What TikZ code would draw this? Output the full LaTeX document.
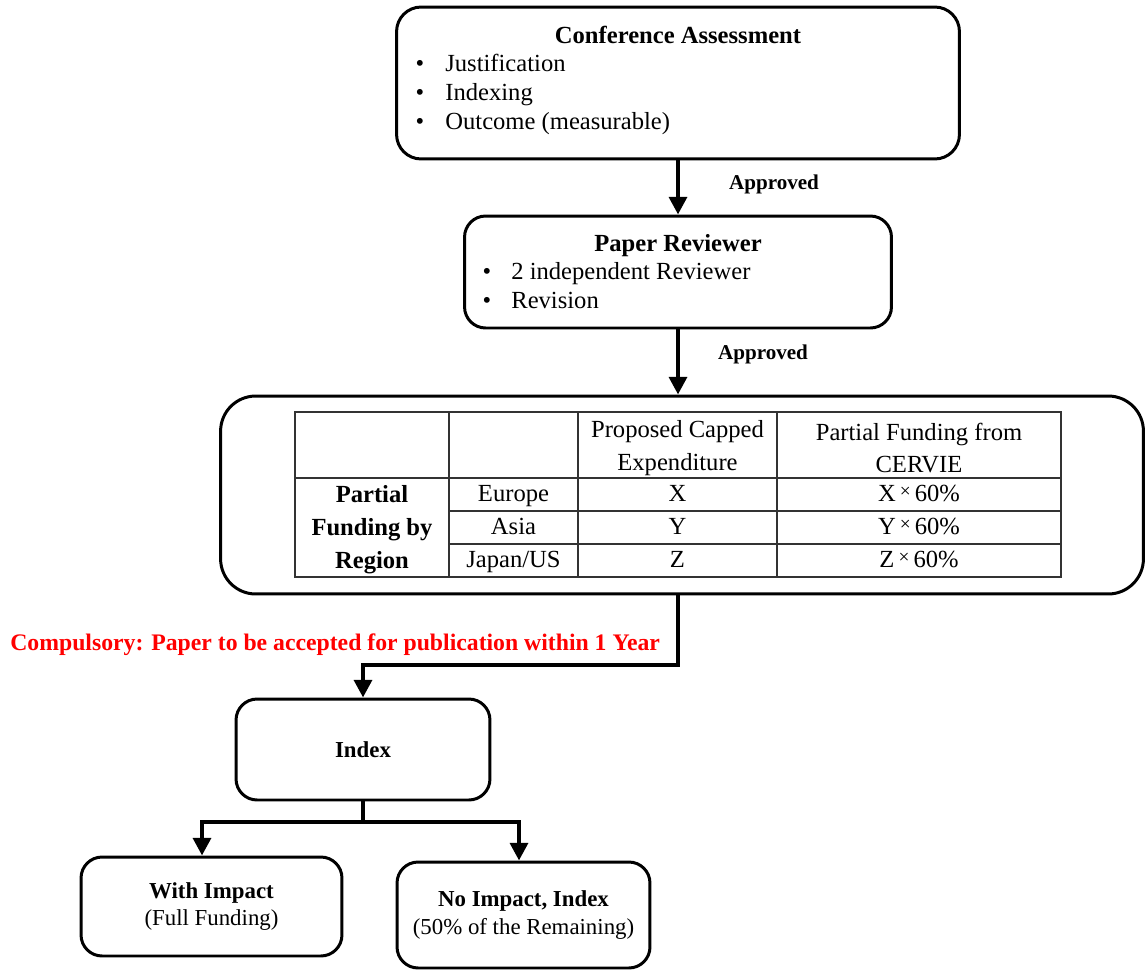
\documentclass[tikz,border=0pt]{standalone}
\usepackage{fontspec}
\setmainfont{Liberation Serif}
\usetikzlibrary{calc,arrows.meta}

\begin{document}
\begin{tikzpicture}[x=0.02cm, y=-0.02cm, font=\fontsize{14}{16.5}\selectfont]

        % Styles for the boxes, the thick connectors and the table rules
        \tikzset{
            box/.style={draw, line width=1.7pt, rounded corners=12pt},
            flow/.style={line width=2.4pt, -{Triangle[length=10pt, width=10pt]}},
            flowline/.style={line width=2.4pt},
            rule/.style={line width=0.9pt, black!80},
            txt/.style={text height=11.5pt, text depth=3pt},
            approved/.style={txt, font=\fontsize{12}{14}\selectfont\bfseries},
            cell/.style={align=center, font=\fontsize{14}{18.5}\selectfont}
        }

        \useasboundingbox (0, 0) rectangle (1145, 970);

        % The three boxes down the middle
        \begin{scope}
            \node (conf) at (678, 83) [box, rounded corners=14pt, minimum width=11.26cm, minimum height=3.04cm] {};
            \node (rev) at (678, 272) [box, minimum width=8.54cm, minimum height=2.24cm] {};
            \node (fund) at (682, 495) [box, rounded corners=20pt, minimum width=18.46cm, minimum height=3.96cm] {};
        \end{scope}

        % Texts of the first two boxes
        \node (conft) at (678, 36) [txt, font=\fontsize{14}{16.5}\selectfont\bfseries] {Conference Assessment};
        \foreach \y/\item in {64/Justification, 93/Indexing, 122/Outcome (measurable)} {
            \node (cb\y) at (420, \y) [txt] {\textbullet};
            \node (ci\y) at (445, \y) [txt, anchor=west, inner sep=0pt] {\item};
        }
        \node (revt) at (678, 244) [txt, font=\fontsize{14}{16.5}\selectfont\bfseries] {Paper Reviewer};
        \foreach \y/\item in {272/2 independent Reviewer, 301/Revision} {
            \node (rb\y) at (487, \y) [txt] {\textbullet};
            \node (ri\y) at (511, \y) [txt, anchor=west, inner sep=0pt] {\item};
        }

        % The funding table inside the third box
        \begin{scope}[rule]
            \draw (295, 412) rectangle (1061, 577);
            \draw (295, 478) -- (1061, 478);
            \draw (449, 511) -- (1061, 511);
            \draw (449, 544) -- (1061, 544);
            \foreach \x in {449, 578, 777}
                \draw (\x, 412) -- (\x, 577);
        \end{scope}
        \node (hcap) at (677.5, 448) [cell] {Proposed Capped\\Expenditure};
        \node (hpart) at (919, 448) [cell] {Partial Funding from\\CERVIE};
        \node (region) at (372, 530) [cell, font=\fontsize{14}{18.7}\selectfont\bfseries] {Partial\\Funding by\\Region};
        \foreach \y/\reg/\val in {494/Europe/X, 527/Asia/Y, 560/{Japan/US}/Z} {
            \node (reg\y) at (513.5, \y) [cell, txt] {\reg};
            \node (cap\y) at (677.5, \y) [cell, txt] {\val};
            \node (part\y) at (919, \y) [cell, txt] {\val\,\raisebox{2pt}{\fontsize{11}{11}\selectfont ×}\,60\%};
        }

        % Lower boxes
        \node (idx) at (363, 749.5) [box, minimum width=5.08cm, minimum height=2.02cm, font=\fontsize{13}{15}\selectfont\bfseries] {Index};
        \node (full) at (211.5, 906.5) [box, minimum width=5.22cm, minimum height=1.98cm, align=center, font=\fontsize{13}{15.5}\selectfont]
            {\textbf{With Impact}\\(Full Funding)};
        \node (half) at (523.5, 915) [box, minimum width=5.06cm, minimum height=2.12cm, align=center, font=\fontsize{13}{15.5}\selectfont]
            {\textbf{No Impact, Index}\\(50\% of the Remaining)};

        % Connectors between the boxes
        \draw[flow] (conf.south) -- (rev.north);
        \node (ok1) at (774, 182) [approved] {Approved};
        \draw[flow] (rev.south) -- (rev.south |- fund.north);
        \node (ok2) at (763, 352) [approved] {Approved};

        \coordinate (turn) at (678, 665);
        \draw[flow] (turn |- fund.south) -- (turn) -| (idx.north);
        \node (rule1) at (10, 643) [txt, anchor=west, inner sep=0pt, red, font=\fontsize{13.5}{16}\selectfont\bfseries]
            {Compulsory: Paper to be accepted for publication within 1 Year};

        \coordinate (split) at (363, 822);
        \draw[flowline] (idx.south) -- (split);
        \draw[flow] (split) -| ([xshift=-0.19cm]full.north);
        \draw[flow] (split) -| ([xshift=-0.09cm]half.north);

\end{tikzpicture}
\end{document}
